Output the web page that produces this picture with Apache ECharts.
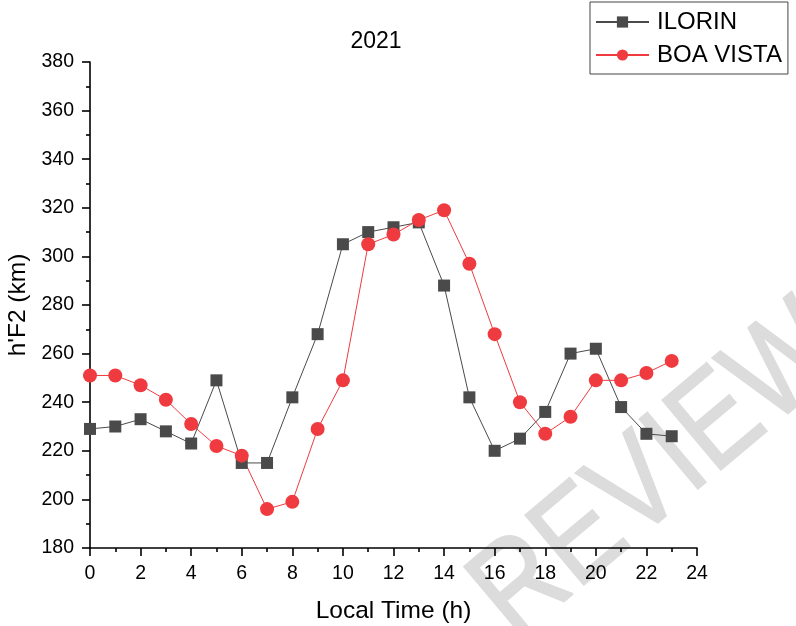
<!DOCTYPE html>
<html><head><meta charset="utf-8">
<script src="https://cdn.jsdelivr.net/npm/echarts@6/dist/echarts.min.js"></script>
<style>html,body{margin:0;padding:0;background:#fff}#c{width:796px;height:626px}</style>
</head><body><div id="c"></div>
<script>
const hours = [0,1,2,3,4,5,6,7,8,9,10,11,12,13,14,15,16,17,18,19,20,21,22,23];
const ilorin = [229,230,233,228,223,249,215,215,242,268,305,310,312,314,288,242,220,225,236,260,262,238,227,226];
const boaVista = [251,251,247,241,231,222,218,196,199,229,249,305,309,315,319,297,268,240,227,234,249,249,252,257];
const seriesNames = ['ILORIN','BOA VISTA'];
const titleText = '2021';
const xName = 'Local Time (h)';
const yName = "h'F2 (km)";
const watermark = 'REVIEW';

const font = 'Liberation Sans, Arial, sans-serif';
const chart = echarts.init(document.getElementById('c'));
const axisCommon = {
  axisLine:{show:true,lineStyle:{color:'#000',width:1.6}},
  axisTick:{show:true,inside:false,length:8,lineStyle:{color:'#000',width:1.6}},
  minorTick:{show:true,splitNumber:2,length:4,lineStyle:{color:'#000',width:1.6}},
  splitLine:{show:false},
  axisLabel:{color:'#000',fontFamily:font,fontSize:19.5,margin:16}
};
chart.setOption({
  animation:false,
  backgroundColor:'#fff',
  title:{text:titleText,left:371,top:25,textAlign:'center',textStyle:{fontFamily:font,fontSize:23,fontWeight:'normal',color:'#000'}},
  legend:{
    orient:'vertical',left:590,top:2,padding:[8,6,7,5],itemGap:9,
    borderColor:'#444',borderWidth:1,itemWidth:53,itemHeight:14,
    textStyle:{fontFamily:font,fontSize:24,color:'#000',padding:[0,0,0,3]},
    data:seriesNames
  },
  grid:{left:90,right:99,top:62,bottom:78,outerBoundsMode:'none',containLabel:false},
  graphic:[{type:'text',x:492,y:614,rotation:40*Math.PI/180,scaleX:0.84,scaleY:1,z:-10,silent:true,
    style:{text:watermark,fontFamily:font,fontSize:132,fill:'#dcdcdc',stroke:'#dcdcdc',lineWidth:2,
      textAlign:'left',textVerticalAlign:'middle'}}],
  xAxis:Object.assign({type:'value',min:0,max:24,interval:2,name:xName,nameLocation:'middle',nameGap:51,
    nameTextStyle:{fontFamily:font,fontSize:24.5,color:'#000'}},axisCommon),
  yAxis:Object.assign({type:'value',min:180,max:380,interval:20,name:yName,nameLocation:'middle',nameGap:49,
    nameTextStyle:{fontFamily:font,fontSize:24.5,color:'#000'}},axisCommon),
  series:[
    {name:seriesNames[0],type:'line',symbol:'rect',symbolSize:12,
     data:hours.map((h,i)=>[h,ilorin[i]]),
     lineStyle:{color:'#4a4a4a',width:1},itemStyle:{color:'#4a4a4a'}},
    {name:seriesNames[1],type:'line',symbol:'circle',symbolSize:14,
     data:hours.map((h,i)=>[h,boaVista[i]]),
     lineStyle:{color:'#ef3b3f',width:1},itemStyle:{color:'#ef3b3f'}}
  ]
});
</script></body></html>
